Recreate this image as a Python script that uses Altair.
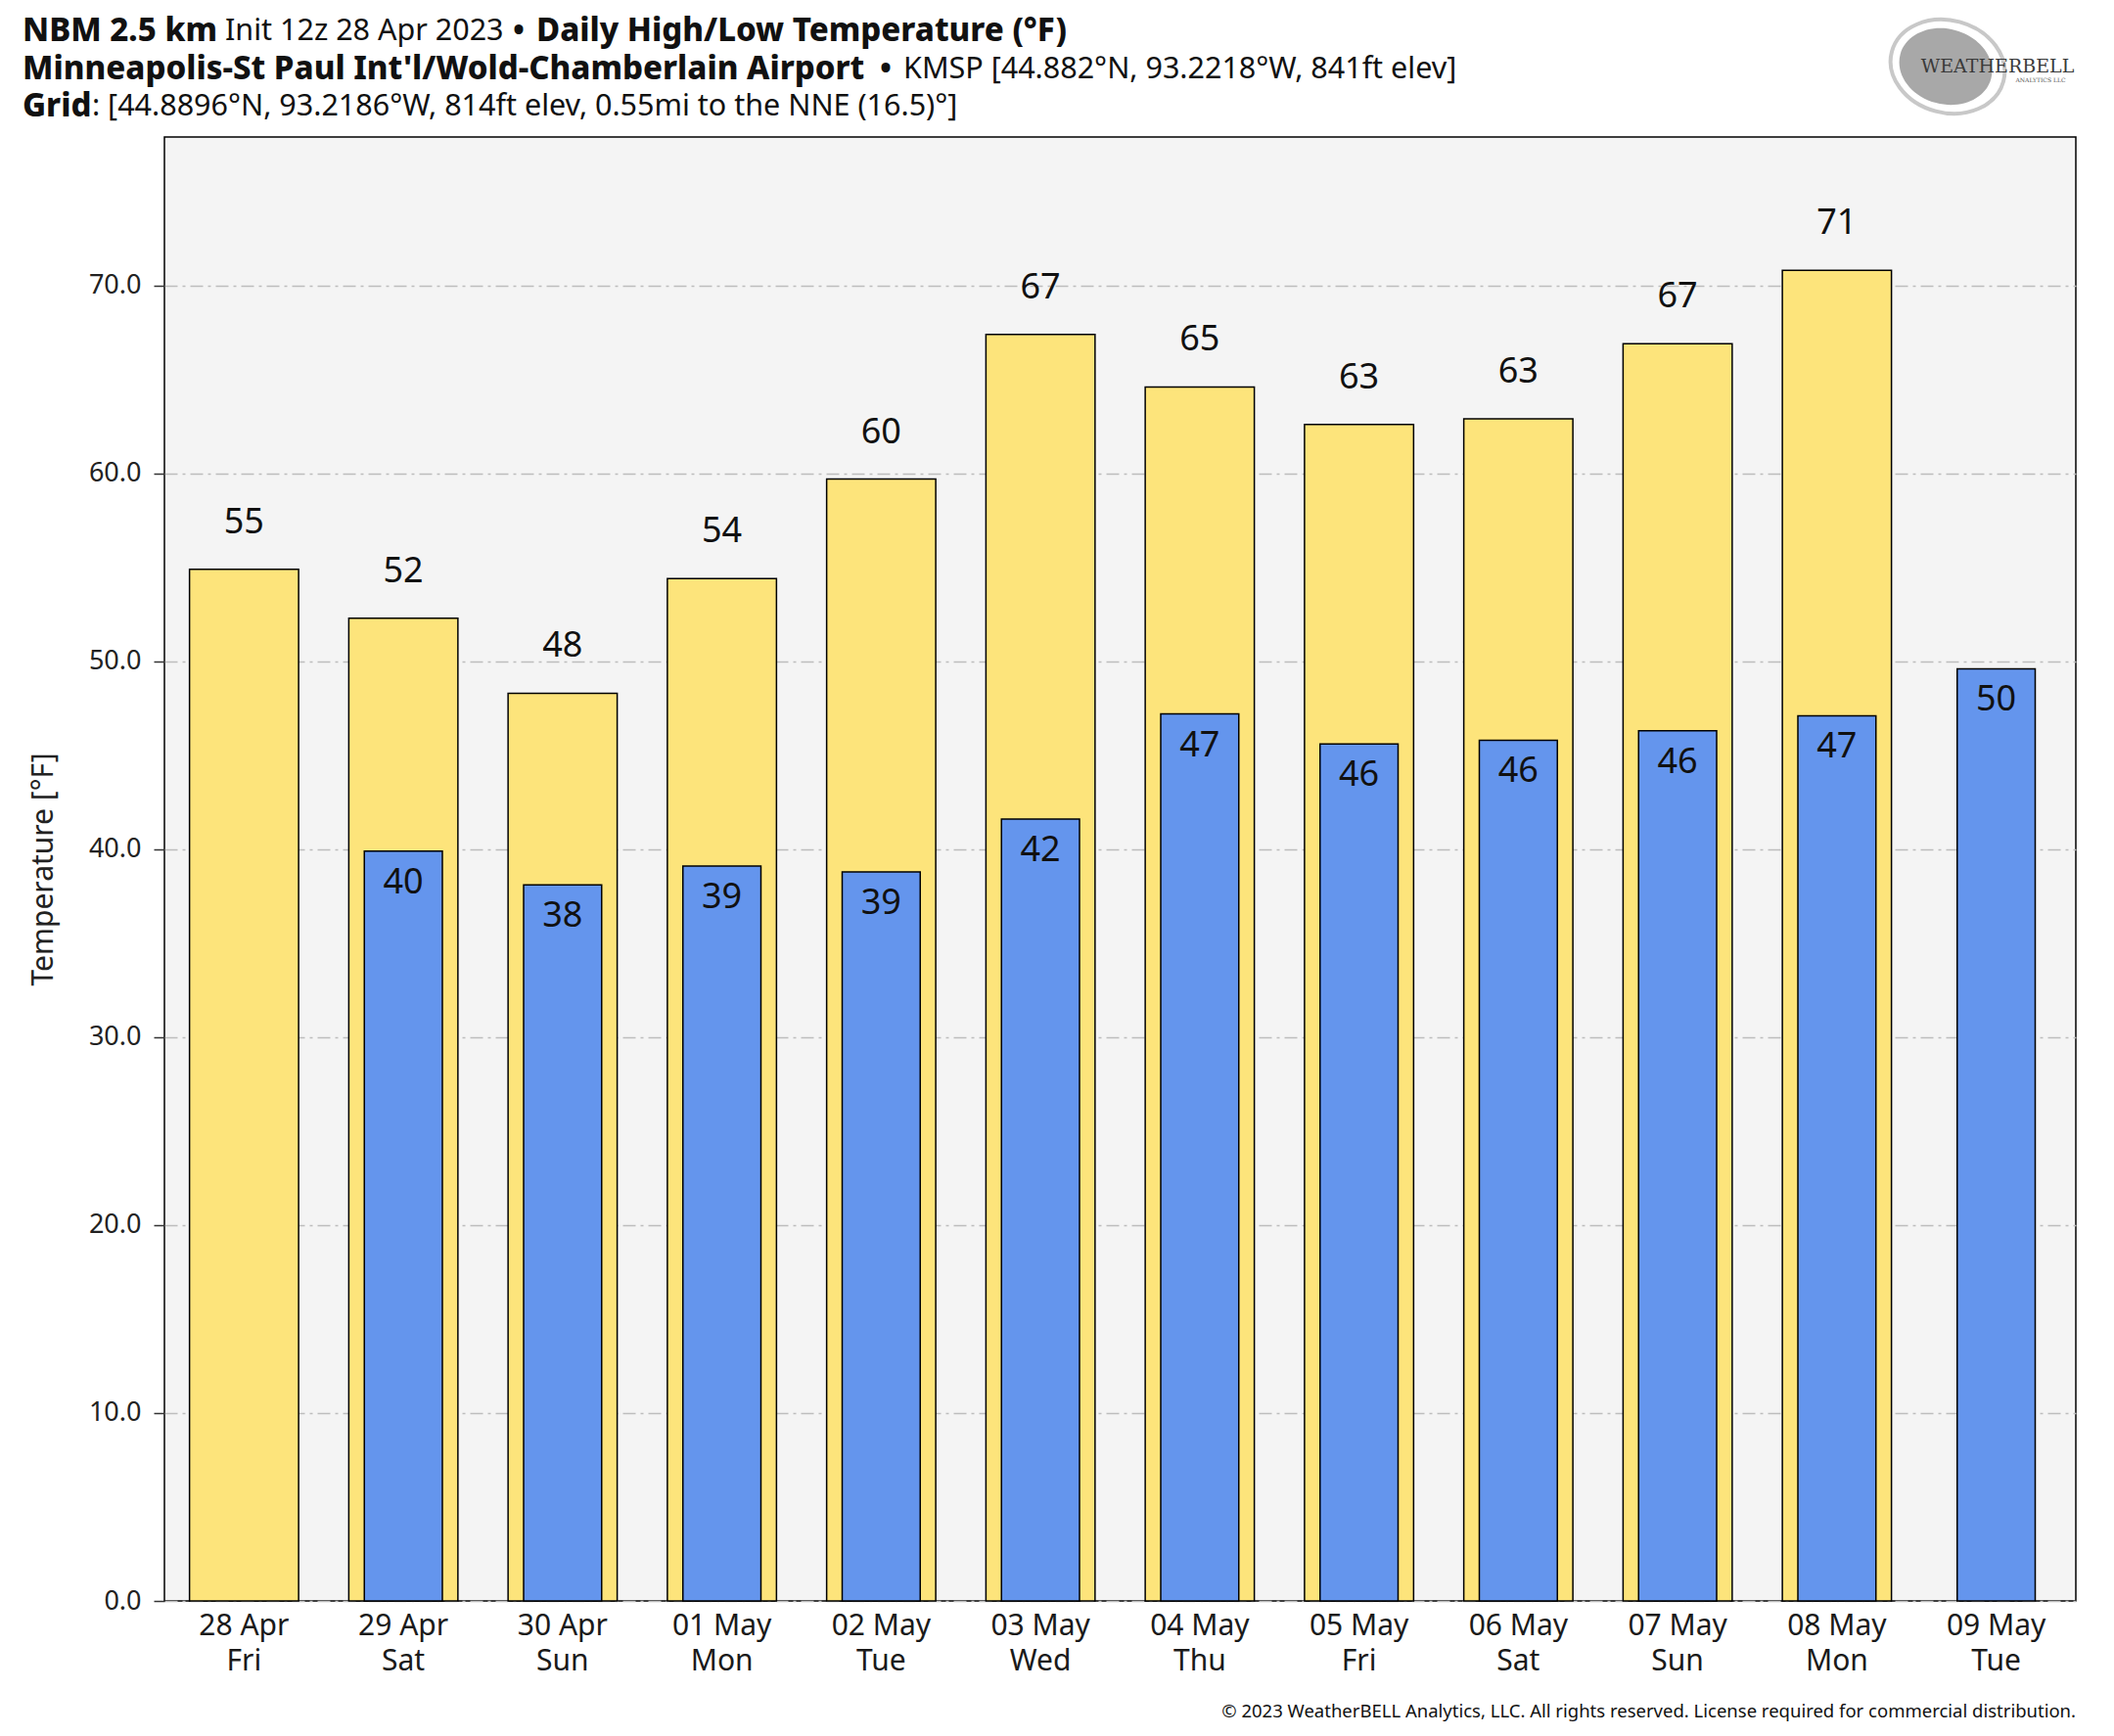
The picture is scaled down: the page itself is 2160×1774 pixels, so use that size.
import altair as alt
import pandas as pd

# ---------------- data ----------------
dates = ["28 Apr", "29 Apr", "30 Apr", "01 May", "02 May", "03 May",
         "04 May", "05 May", "06 May", "07 May", "08 May", "09 May"]
days = ["Fri", "Sat", "Sun", "Mon", "Tue", "Wed",
        "Thu", "Fri", "Sat", "Sun", "Mon", "Tue"]
highs = [54.9, 52.3, 48.3, 54.4, 59.7, 67.4, 64.6, 62.6, 62.9, 66.9, 70.8, None]
lows = [None, 39.9, 38.1, 39.1, 38.8, 41.6, 47.2, 45.6, 45.8, 46.3, 47.1, 49.6]
y_ticks = [0, 10, 20, 30, 40, 50, 60, 70]

title1_a = "NBM 2.5 km"
title1_b = "Init 12z 28 Apr 2023"
title1_c = "Daily High/Low Temperature (°F)"
title2_a = "Minneapolis-St Paul Int'l/Wold-Chamberlain Airport"
title2_b = "KMSP [44.882°N, 93.2218°W, 841ft elev]"
title3_a = "Grid"
title3_b = ": [44.8896°N, 93.2186°W, 814ft elev, 0.55mi to the NNE (16.5)°]"
copyright_txt = "© 2023 WeatherBELL Analytics, LLC. All rights reserved. License required for commercial distribution."
y_title = "Temperature [°F]"

labels = [f"{d}|{w}" for d, w in zip(dates, days)]
df = pd.DataFrame({"label": labels, "high": highs, "low": lows})

# ---------------- style ----------------
W, H = 1953, 1496
YEL = "#FDE47B"
BLU = "#6495ED"
FONT = "Noto Sans"

xenc = alt.X(
    "label:N", sort=labels, title="",
    scale=alt.Scale(paddingInner=0, paddingOuter=0),
    axis=alt.Axis(labelExpr="split(datum.value, '|')", labelAngle=0,
                  labelFontSize=30, labelLineHeight=36, labelFont=FONT,
                  labelColor="#1a1a1a", labelPadding=10, ticks=False,
                  domain=False, grid=False),
)
yaxis = alt.Axis(values=y_ticks, format=".1f", title=y_title,
                 labelFontSize=27, labelFont=FONT, labelColor="#222222",
                 labelPadding=13, tickSize=11, tickColor="#333333", tickWidth=1.5,
                 domain=False, grid=True, gridColor="#BDBDBD", gridWidth=1.5,
                 gridDash=[13, 5, 3, 5],
                 titleFont=FONT, titleFontSize=30, titleFontWeight="normal",
                 titleColor="#222222", titleX=-124, titleY=H / 2,
                 titleAngle=-90, titleAlign="center", titleBaseline="middle")
yscale = alt.Scale(domain=[0, 77.9], nice=False, zero=True)

base = alt.Chart(df)

high_bars = base.transform_filter("isValid(datum.high)").mark_bar(
    color=YEL, stroke="black", strokeWidth=1.5,
    width=alt.RelativeBandSize(0.685)
).encode(x=xenc, y=alt.Y("high:Q", scale=yscale, axis=yaxis))

low_bars = base.transform_filter("isValid(datum.low)").mark_bar(
    color=BLU, stroke="black", strokeWidth=1.5,
    width=alt.RelativeBandSize(0.49)
).encode(x=xenc, y=alt.Y("low:Q", scale=yscale, axis=yaxis))

high_text = base.transform_filter("isValid(datum.high)").mark_text(
    dy=-48, fontSize=36, font=FONT, color="#111111", baseline="middle"
).encode(x=xenc, y=alt.Y("high:Q", scale=yscale, axis=yaxis),
         text=alt.Text("high:Q", format=".0f"))

low_text = base.transform_filter("isValid(datum.low)").mark_text(
    dy=32, fontSize=36, font=FONT, color="#111111", baseline="middle"
).encode(x=xenc, y=alt.Y("low:Q", scale=yscale, axis=yaxis),
         text=alt.Text("low:Q", format=".0f"))


def ann(txt, x, y, bold=False, size=30, align="left", color="#111111", font=FONT):
    return alt.Chart(pd.DataFrame({"t": [txt]})).mark_text(
        align=align, baseline="middle", fontSize=size,
        fontWeight=800 if bold else "normal", font=font, color=color
    ).encode(text="t:N", x=alt.value(x), y=alt.value(y))


L = -145
B = 33
annotations = [
    ann(title1_a, L, -108, bold=True, size=B),
    ann(title1_b, 62, -108, size=30.5),
    ann("•", 362, -108, bold=True, align="center"),
    ann(title1_c, 380, -108, bold=True, size=B),
    ann(title2_a, L, -69, bold=True, size=B),
    ann("•", 737, -69, bold=True, align="center"),
    ann(title2_b, 755, -69, size=30.5),
    ann(title3_a, L, -31, bold=True, size=B),
    ann(title3_b, -74, -31, size=30.5),
    ann(copyright_txt, W, 1609, size=18.5, align="right"),
]

logo_df = pd.DataFrame({"t": [0]})
ellipse = "M -1 0 A 1 0.8 0 1 1 1 0 A 1 0.8 0 1 1 -1 0 Z"
logo = [
    alt.Chart(logo_df).mark_point(shape=ellipse, filled=False, color="#C8C8C8",
                                  strokeWidth=4, size=118 ** 2, angle=15, opacity=1
                                  ).encode(x=alt.value(1822), y=alt.value(-72)),
    alt.Chart(logo_df).mark_point(shape=ellipse, filled=True, color="#A8A8A8",
                                  size=96 ** 2, angle=15, opacity=1
                                  ).encode(x=alt.value(1820), y=alt.value(-72)),
    ann("WEATHERBELL", 1873, -72, size=19, align="center", color="#3a3a3a",
        font="DejaVu Serif"),
    ann("ANALYTICS LLC", 1917, -58, size=6, align="center", color="#555555",
        font="DejaVu Serif"),
]

chart = alt.layer(high_bars, low_bars, high_text, low_text, *annotations, *logo).properties(
    width=W, height=H,
    autosize=alt.AutoSizeParams(type="none"),
    padding={"left": 160, "top": 132, "right": 31, "bottom": 130},
    background="white",
).configure_view(fill="#F4F4F4", stroke="black", strokeWidth=1.5)

chart.save("out.html", embed_options={"renderer": "svg", "actions": False})
